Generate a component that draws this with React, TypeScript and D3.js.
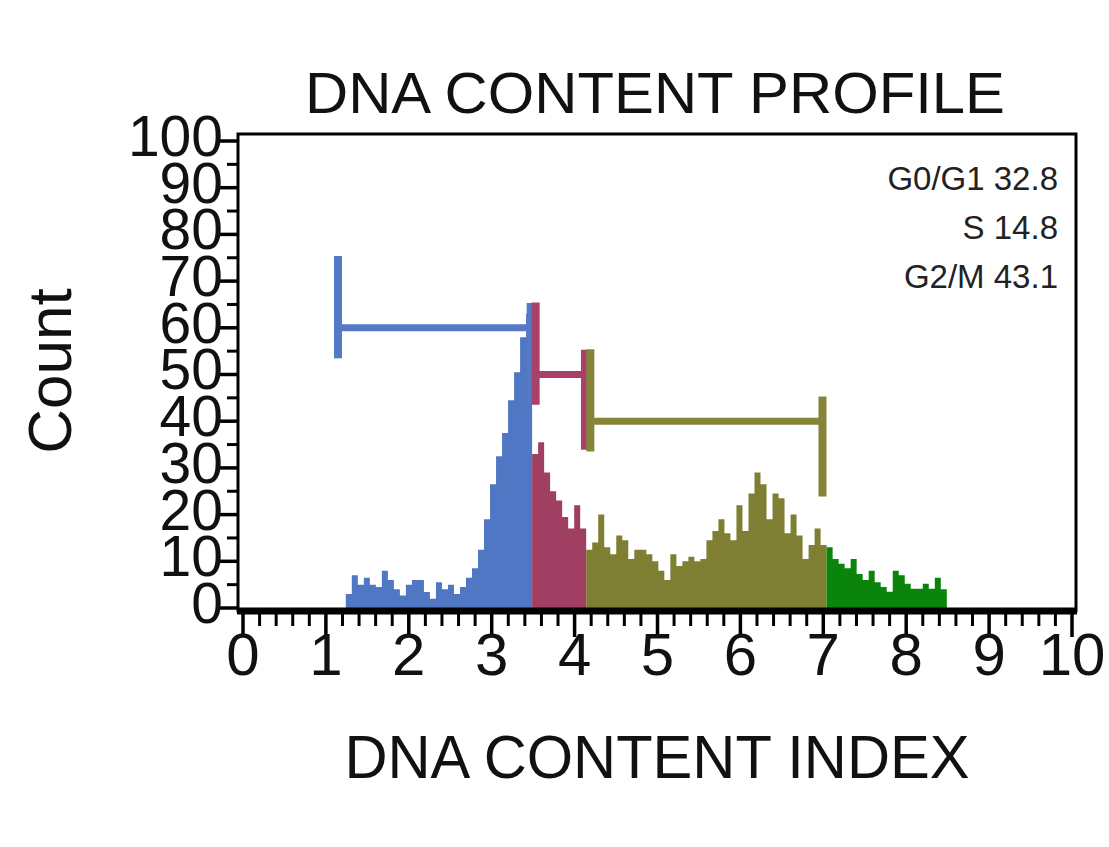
import React, { useEffect } from 'react';
import * as d3 from 'd3';

// histogram bins (DNA content index), one array per gated phase
const binStart = 1.24;
const binWidth = 0.0725;
const g1Counts = [3, 7, 5, 6.5, 5, 4.5, 8, 6, 4, 2.7, 5, 6, 6, 3.4, 2, 5.5, 4, 5, 3, 4.5, 6.5, 8.5, 12.5, 19, 26.5, 32.5, 37.5, 44.5, 50.5, 58, 63];
const sCounts = [33, 35.5, 29, 25, 23, 19.5, 17, 22, 17];
const g2Counts = [12.5, 14, 20, 13, 11.5, 15.5, 14.5, 10.5, 12.5, 12.5, 11.5, 10, 8, 6, 11.5, 9, 10, 11, 10, 10.5, 14.5, 16.5, 19, 16, 14.5, 22, 16.5, 24.5, 29, 26.5, 19, 24.5, 23.5, 16, 20, 15.5, 10.5, 13.5, 17, 13.5];
const tailCounts = [13, 10.5, 9.5, 8.5, 10.5, 7.3, 6, 8, 5.5, 4.5, 3.5, 8, 7, 5.2, 4.1, 4.1, 5.2, 4.1, 6.5, 4];

// gates
const gateNames = ['G0/G1', 'S', 'G2/M'];
const gatePercents = [32.8, 14.8, 43.1];
const gateStart = [1.146, 3.53, 4.19];
const gateEnd = [3.47, 4.125, 6.99];
const gateLevel = [60, 50, 40];

const xTicks = [0, 1, 2, 3, 4, 5, 6, 7, 8, 9, 10];
const yTicks = [0, 10, 20, 30, 40, 50, 60, 70, 80, 90, 100];

const W = 1109;
const H = 847;
const FONT = '"Liberation Sans", Arial, sans-serif';

const App: React.FC = () => {
    useEffect(() => {
        document.body.style.margin = '0';
    }, []);

    const x = d3.scaleLinear().domain([0, 10]).range([243, 1072]);
    const y = d3.scaleLinear().domain([0, 100]).range([608, 141]);

    const phases = [
        { counts: g1Counts, offset: 0, color: '#4f77c3' },
        { counts: sCounts, offset: g1Counts.length, color: '#a03f62' },
        { counts: g2Counts, offset: g1Counts.length + sCounts.length, color: '#7f7f33' },
        { counts: tailCounts, offset: g1Counts.length + sCounts.length + g2Counts.length, color: '#0a840a' },
    ];
    const gateColors = ['#5579c4', '#a8416a', '#858539'];

    const area = d3.area<[number, number]>()
        .x(d => x(d[0]))
        .y0(y(0))
        .y1(d => y(d[1]))
        .curve(d3.curveStepAfter);

    const stepPath = (counts: number[], offset: number) => {
        const pts: [number, number][] = counts.map((c, i) => [binStart + (offset + i) * binWidth, c]);
        pts.push([binStart + (offset + counts.length) * binWidth, counts[counts.length - 1]]);
        return area(pts) || '';
    };

    const minorX = d3.range(0, 10.001, 0.2).filter(v => Math.abs(v - Math.round(v)) > 0.01);
    const minorY = d3.range(5, 100, 10);

    const left = x(0) - 5;
    const right = x(10) + 4;
    const top = y(100) - 7;
    const bottom = y(0) + 3;

    return (
        <svg width={W} height={H} style={{ display: 'block', background: '#fff' }}>
            {/* histogram */}
            {phases.map((p, i) => (
                <path key={i} d={stepPath(p.counts, p.offset)} fill={p.color} />
            ))}

            {/* gates */}
            {gateNames.map((g, i) => {
                const lv = gateLevel[i];
                return (
                    <g key={g} stroke={gateColors[i]} strokeWidth={8}>
                        <line x1={x(gateStart[i])} x2={x(gateEnd[i])} y1={y(lv)} y2={y(lv)} strokeWidth={7} />
                        <line x1={x(gateStart[i])} x2={x(gateStart[i])} y1={y(lv + 15.4)} y2={y(lv - 6.5)} />
                        <line x1={x(gateEnd[i])} x2={x(gateEnd[i])} y1={y(lv + 5.3)} y2={y(lv - 16.1)} />
                    </g>
                );
            })}

            {/* frame */}
            <rect x={left} y={top} width={right - left} height={bottom - top} fill="none" stroke="#000" strokeWidth={3} />
            <line x1={left - 1} x2={right + 1} y1={bottom} y2={bottom} stroke="#000" strokeWidth={7} />

            {/* x axis ticks */}
            {xTicks.map(t => (
                <g key={t}>
                    <line x1={x(t)} x2={x(t)} y1={bottom} y2={bottom + 26} stroke="#000" strokeWidth={3.5} />
                    <text x={x(t)} y={675} textAnchor="middle" fontSize={60} fontFamily={FONT} fill="#111">{t}</text>
                </g>
            ))}
            {minorX.map(t => (
                <line key={t} x1={x(t)} x2={x(t)} y1={bottom} y2={bottom + 15} stroke="#000" strokeWidth={3} />
            ))}

            {/* y axis ticks */}
            {yTicks.map(t => (
                <g key={t}>
                    <line x1={left} x2={left - 18} y1={y(t)} y2={y(t)} stroke="#000" strokeWidth={3.5} />
                    <text x={223} y={y(t) - 5} dy="0.35em" textAnchor="end" fontSize={57} fontFamily={FONT} fill="#111">{t}</text>
                </g>
            ))}
            {minorY.map(t => (
                <line key={t} x1={left} x2={left - 11} y1={y(t)} y2={y(t)} stroke="#000" strokeWidth={3} />
            ))}

            {/* gate statistics */}
            {gateNames.map((g, i) => (
                <text key={g} x={1058} y={190 + i * 49} textAnchor="end" fontSize={33} fontFamily={FONT} fill="#222">
                    {`${g} ${gatePercents[i]}`}
                </text>
            ))}

            {/* titles */}
            <text x={655} y={113} textAnchor="middle" fontSize={57} fontFamily={FONT} fill="#111"
                textLength={700} lengthAdjust="spacingAndGlyphs">DNA CONTENT PROFILE</text>
            <text x={657} y={778} textAnchor="middle" fontSize={62} fontFamily={FONT} fill="#111"
                textLength={625} lengthAdjust="spacingAndGlyphs">DNA CONTENT INDEX</text>
            <text transform="translate(71,371) rotate(-90)" textAnchor="middle" fontSize={62} fontFamily={FONT} fill="#111">Count</text>
        </svg>
    );
};

export default App;
